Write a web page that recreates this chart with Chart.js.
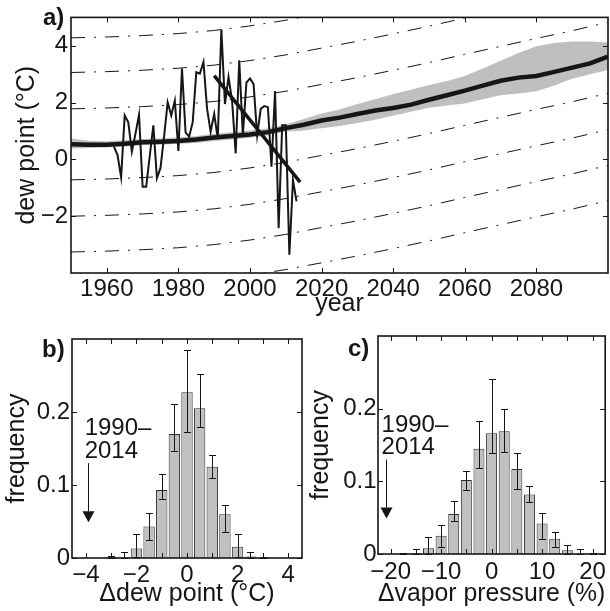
<!DOCTYPE html>
<html>
<head>
<meta charset="utf-8">
<script src="https://cdn.jsdelivr.net/npm/chart.js@4.4.1/dist/chart.umd.min.js"></script>
<style>
  html, body { margin: 0; padding: 0; background: #fff; }
  #wrap { position: relative; width: 610px; height: 611px; }
  canvas { position: absolute; }
</style>
</head>
<body>
<div id="wrap">
  <canvas id="chartA" width="610" height="320" style="left:0;top:0"></canvas>
  <canvas id="chartB" width="305" height="291" style="left:0;top:320px"></canvas>
  <canvas id="chartC" width="305" height="291" style="left:305px;top:320px"></canvas>
</div>
<script>
const FONT = "'Liberation Sans', Arial, Helvetica, sans-serif";
const INK = '#161616';
const BAND = '#bfbfbf';
const BAR = '#c0c0c0';

// ---- panel a: dew point time series ----
const obsYears = [1962, 1963, 1964, 1965, 1966, 1967, 1968, 1969, 1970, 1971, 1972, 1973, 1974, 1975,
  1976, 1977, 1978, 1979, 1980, 1981, 1982, 1983, 1984, 1985, 1986, 1987, 1988, 1989, 1990, 1991,
  1992, 1993, 1994, 1995, 1996, 1997, 1998, 1999, 2000, 2001, 2002, 2003, 2004, 2005, 2006, 2007,
  2008, 2009, 2010, 2011, 2012, 2013];
const obsDewPoint = [0.45, 0.15, -0.63, 1.55, 1.31, 0.27, 0.9, 1.57, -0.96, -0.96, 0.12, 1.2, -0.66, -0.3,
  0.8, 2.01, 1.55, 2.07, 0.3, 3.2, 0.95, 0.8, 1.31, 3.07, 3.02, 3.43, 1.8, 0.97, 1.6, 0.73,
  4.58, 1.95, 2.9, 2.05, 0.21, 3.49, 0.85, 2.7, 2.85, 2.65, 0.85, 1.78, 1.88, 1.84, -0.26, 2.41,
  -2.42, 1.2, 1.2, -3.36, -0.73, -1.48];
const trendYears = [1990, 2014];
const trendDewPoint = [2.95, -0.8];

const projYears = [1950, 1955, 1960, 1965, 1970, 1975, 1980, 1985, 1990, 1995, 2000, 2005, 2010, 2015,
  2020, 2025, 2030, 2035, 2040, 2045, 2050, 2055, 2060, 2065, 2070, 2075, 2080, 2085, 2090, 2095, 2100];
const projMean = [0.53, 0.52, 0.52, 0.55, 0.6, 0.62, 0.65, 0.7, 0.77, 0.82, 0.88, 0.96, 1.1, 1.22,
  1.37, 1.47, 1.6, 1.72, 1.81, 1.93, 2.1, 2.26, 2.42, 2.6, 2.77, 2.88, 2.94, 3.08, 3.23, 3.38, 3.62];
const projUpper = [0.74, 0.66, 0.64, 0.67, 0.72, 0.74, 0.78, 0.82, 0.9, 0.96, 1.02, 1.1, 1.24, 1.42,
  1.62, 1.76, 1.95, 2.12, 2.3, 2.45, 2.62, 2.76, 2.94, 3.2, 3.47, 3.75, 3.98, 4.1, 4.15, 4.15, 4.12];
const projLower = [0.38, 0.4, 0.42, 0.45, 0.5, 0.52, 0.55, 0.58, 0.65, 0.7, 0.76, 0.84, 0.97, 1.02,
  1.1, 1.18, 1.28, 1.4, 1.55, 1.68, 1.82, 1.9, 1.97, 2.12, 2.26, 2.32, 2.4, 2.6, 2.84, 3.0, 3.15];

// dash-dot reference curves: common rise since 1950, and each curve's 1950 level
const refYears = [1950, 1960, 1970, 1980, 1990, 2000, 2010, 2020, 2030, 2040, 2050, 2060, 2070, 2080, 2090, 2100];
const refRise = [0, 0.03, 0.08, 0.15, 0.26, 0.42, 0.62, 0.86, 1.1, 1.36, 1.63, 1.92, 2.2, 2.48, 2.75, 3.05];
const refStart = [4.28, 3.06, 1.78, 0.52, -0.72, -2.0, -3.26, -4.5];

const yearTicks = [1960, 1980, 2000, 2020, 2040, 2060, 2080];
const dewTicks = [-2, 0, 2, 4];

// ---- panel b: dew point change histogram ----
const dewBins = [-3, -2.5, -2, -1.5, -1, -0.5, 0, 0.5, 1, 1.5, 2, 2.5, 3];
const dewFreq = [0.001, 0.0005, 0.013, 0.043, 0.093, 0.17, 0.227, 0.205, 0.125, 0.06, 0.0155, 0.002, 0.0005];
const dewErrLow = [0, 0, 0.002, 0.025, 0.081, 0.147, 0.173, 0.18, 0.109, 0.035, 0.002, 0, 0];
const dewErrHigh = [0.003, 0.008, 0.033, 0.061, 0.115, 0.211, 0.285, 0.252, 0.141, 0.073, 0.033, 0.008, 0.002];
const dewBinTicks = [-4, -3, -2, -1, 0, 1, 2, 3, 4];
const obsDewChange = -3.9;

// ---- panel c: vapor pressure change histogram ----
const vapBins = [-20, -17.5, -15, -12.5, -10, -7.5, -5, -2.5, 0, 2.5, 5, 7.5, 10, 12.5, 15, 17.5, 20];
const vapFreq = [0, 0.0005, 0.001, 0.008, 0.025, 0.055, 0.102, 0.145, 0.166, 0.169, 0.117, 0.082, 0.042, 0.021, 0.005, 0.0005, 0.0005];
const vapErrLow = [0, 0, 0, 0, 0.01, 0.046, 0.088, 0.118, 0.139, 0.141, 0.09, 0.072, 0.021, 0.009, 0, 0, 0];
const vapErrHigh = [0, 0.002, 0.007, 0.024, 0.04, 0.073, 0.114, 0.183, 0.241, 0.199, 0.139, 0.093, 0.056, 0.03, 0.012, 0.007, 0.002];
const vapTicks = [-20, -15, -10, -5, 0, 5, 10, 15, 20];
const obsVapChange = -21;

const freqTicks = [0, 0.1, 0.2];

// ---------------------------------------------
const tickFont = { family: FONT, size: 24 };
const titleFont = { family: FONT, size: 25 };
const pts = (xs, ys) => xs.map((x, i) => ({ x: x, y: ys[i] }));
const minus = v => String(v).replace('-', '\u2212');
const fixedTicks = values => scale => { scale.ticks = values.map(v => ({ value: v })); };

// MATLAB-style box with inward ticks and the panel letter
const frame = {
  id: 'frame',
  afterDraw(chart, args, opts) {
    const { ctx, chartArea: a, scales } = chart;
    const len = 5;
    ctx.save();
    ctx.strokeStyle = INK;
    ctx.lineWidth = 1;
    ctx.beginPath();
    opts.xTicks.forEach(v => {
      const px = Math.round(scales.x.getPixelForValue(v)) + 0.5;
      ctx.moveTo(px, a.bottom); ctx.lineTo(px, a.bottom - len);
      ctx.moveTo(px, a.top); ctx.lineTo(px, a.top + len);
    });
    opts.yTicks.forEach(v => {
      const py = Math.round(scales.y.getPixelForValue(v)) + 0.5;
      ctx.moveTo(a.left, py); ctx.lineTo(a.left + len, py);
      ctx.moveTo(a.right, py); ctx.lineTo(a.right - len, py);
    });
    ctx.stroke();
    ctx.lineWidth = 1.6;
    ctx.strokeRect(a.left, a.top, a.right - a.left, a.bottom - a.top);
    ctx.fillStyle = INK;
    ctx.font = 'bold 24px ' + FONT;
    ctx.fillText(opts.letter, opts.letterX, opts.letterY);
    ctx.restore();
  }
};

// error bars, the observed-change arrow and its label
const histExtras = {
  id: 'histExtras',
  afterDatasetsDraw(chart, args, opts) {
    const { ctx, scales: { x, y } } = chart;
    ctx.save();
    ctx.strokeStyle = INK;
    ctx.fillStyle = INK;
    ctx.lineWidth = 1;
    ctx.beginPath();
    opts.bins.forEach((b, i) => {
      if (opts.high[i] <= 0) return;
      const px = Math.round(x.getPixelForValue(b)) + 0.5;
      const lo = Math.round(y.getPixelForValue(opts.low[i])) + 0.5;
      const hi = Math.round(y.getPixelForValue(opts.high[i])) + 0.5;
      ctx.moveTo(px, lo); ctx.lineTo(px, hi);
      ctx.moveTo(px - 3.5, hi); ctx.lineTo(px + 3.5, hi);
      ctx.moveTo(px - 3.5, lo); ctx.lineTo(px + 3.5, lo);
    });
    ctx.stroke();

    const ax = Math.round(x.getPixelForValue(opts.arrowAt)) + 0.5;
    const top = y.getPixelForValue(0.13);
    const base = y.getPixelForValue(0.064);
    const tip = y.getPixelForValue(0.049);
    ctx.beginPath();
    ctx.moveTo(ax, top); ctx.lineTo(ax, base);
    ctx.stroke();
    ctx.beginPath();
    ctx.moveTo(ax - 6, base); ctx.lineTo(ax + 6, base); ctx.lineTo(ax, tip);
    ctx.closePath();
    ctx.fill();

    ctx.font = '24px ' + FONT;
    const tx = x.getPixelForValue(opts.textAt);
    ctx.fillText('1990\u2013', tx, y.getPixelForValue(0.168));
    ctx.fillText('2014', tx, y.getPixelForValue(0.137));
    ctx.restore();
  }
};

function axisX(min, max, ticks, labelEvery, height, title, titlePad, tickPad) {
  return {
    type: 'linear', min: min, max: max, offset: false,
    afterBuildTicks: fixedTicks(ticks),
    afterFit: s => { s.height = height; },
    grid: { display: false, drawTicks: false }, border: { display: false },
    ticks: { font: tickFont, color: INK, padding: tickPad, autoSkip: false, maxRotation: 0,
      callback: v => (Math.abs(v % labelEvery) < 1e-9 ? minus(v) : '') },
    title: { display: true, text: title, font: titleFont, color: INK, padding: { top: 0, bottom: titlePad } }
  };
}
function axisY(min, max, ticks, width, title, titlePad, tickPad) {
  return {
    min: min, max: max,
    afterBuildTicks: fixedTicks(ticks),
    afterFit: s => { s.width = width; },
    grid: { display: false, drawTicks: false }, border: { display: false },
    ticks: { font: tickFont, color: INK, padding: tickPad, autoSkip: false, callback: v => minus(v) },
    title: { display: true, text: title, font: titleFont, color: INK, padding: { top: titlePad, bottom: 0 } }
  };
}
const baseOptions = {
  responsive: false, animation: false, devicePixelRatio: 1,
  events: [],
  elements: { point: { radius: 0 }, line: { tension: 0 } }
};

// ---- chart a ----
const refLineSets = refStart.map(start => ({
  data: refYears.map((yr, i) => ({ x: yr, y: start + refRise[i] })),
  borderColor: INK, borderWidth: 1, borderDash: [14, 9, 2, 9], fill: false, order: 5
}));

new Chart(document.getElementById('chartA'), {
  type: 'line',
  data: {
    datasets: [
      ...refLineSets,
      { data: pts(projYears, projLower), borderWidth: 0, fill: false, order: 4 },
      { data: pts(projYears, projUpper), borderWidth: 0, fill: '-1', backgroundColor: BAND, order: 4 },
      { data: pts(projYears, projMean), borderColor: INK, borderWidth: 4.5, fill: false, order: 3 },
      { data: pts(obsYears, obsDewPoint), borderColor: INK, borderWidth: 2, fill: false, order: 2 },
      { data: pts(trendYears, trendDewPoint), borderColor: INK, borderWidth: 3.5, fill: false, order: 1 }
    ]
  },
  options: Object.assign({}, baseOptions, {
    layout: { padding: { top: 17, right: 2, left: 0, bottom: 0 } },
    plugins: {
      legend: { display: false }, tooltip: { enabled: false },
      frame: { xTicks: yearTicks, yTicks: dewTicks, letter: 'a)', letterX: 43, letterY: 25 }
    },
    scales: {
      x: axisX(1950, 2100, yearTicks, 20, 47, 'year', 1, 2),
      y: axisY(-4, 5, dewTicks, 71, 'dew point (\u00B0C)', 12.5, 3)
    }
  }),
  plugins: [frame]
});

// ---- chart b ----
new Chart(document.getElementById('chartB'), {
  type: 'bar',
  data: {
    datasets: [{
      data: pts(dewBins, dewFreq),
      backgroundColor: BAR, borderColor: '#303030', borderWidth: 1,
      barPercentage: 0.9, categoryPercentage: 1
    }]
  },
  options: Object.assign({}, baseOptions, {
    layout: { padding: { top: 19, right: 3, left: 0, bottom: 0 } },
    plugins: {
      legend: { display: false }, tooltip: { enabled: false },
      frame: { xTicks: dewBinTicks, yTicks: freqTicks, letter: 'b)', letterX: 42, letterY: 37 },
      histExtras: { bins: dewBins, low: dewErrLow, high: dewErrHigh, arrowAt: obsDewChange, textAt: -4.05 }
    },
    scales: {
      x: axisX(-4.55, 4.55, dewBinTicks, 2, 53, '\u0394dew point (\u00B0C)', 2, 3),
      y: axisY(0, 0.3, freqTicks, 72, 'frequency', 2, 2)
    }
  }),
  plugins: [histExtras, frame]
});

// ---- chart c ----
new Chart(document.getElementById('chartC'), {
  type: 'bar',
  data: {
    datasets: [{
      data: pts(vapBins, vapFreq),
      backgroundColor: BAR, borderColor: '#303030', borderWidth: 1,
      barPercentage: 0.87, categoryPercentage: 1
    }]
  },
  options: Object.assign({}, baseOptions, {
    layout: { padding: { top: 16, right: 1.5, left: 0, bottom: 0 } },
    plugins: {
      legend: { display: false }, tooltip: { enabled: false },
      frame: { xTicks: vapTicks, yTicks: freqTicks, letter: 'c)', letterX: 43, letterY: 36 },
      histExtras: { bins: vapBins, low: vapErrLow, high: vapErrHigh, arrowAt: obsVapChange, textAt: -21.8 }
    },
    scales: {
      x: axisX(-22.5, 22.5, vapTicks, 10, 57, '\u0394vapor pressure (%)', 2, 4),
      y: axisY(0, 0.3, freqTicks, 73, 'frequency', 1.5, 1.5)
    }
  }),
  plugins: [histExtras, frame]
});
</script>
</body>
</html>
